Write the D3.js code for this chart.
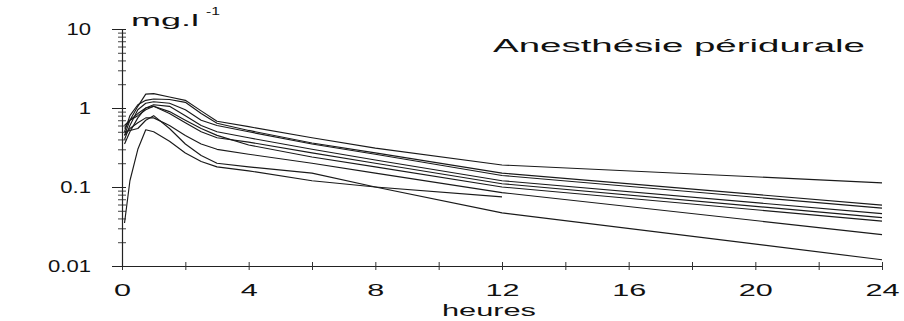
<!DOCTYPE html>
<html><head><meta charset="utf-8">
<script src="https://cdn.jsdelivr.net/npm/d3@7"></script>
<style>
body{margin:0;background:#fff;}
text{font-family:"Liberation Sans",Arial,Helvetica,sans-serif;fill:#111;}
</style></head>
<body><svg id="c" width="904" height="321"></svg>
<script>
// sampling times (heures)
const times = [0.08, 0.25, 0.5, 0.75, 1, 1.5, 2, 2.5, 3, 4, 6, 8, 12, 24];
// concentrations (mg.l-1), one array per patient
const p1 = [0.45, 0.70, 1.05, 1.50, 1.52, 1.38, 1.25, 0.92, 0.68, 0.58, 0.42, 0.31, 0.19, 0.113];
const p2 = [0.50, 0.80, 1.10, 1.25, 1.30, 1.28, 1.18, 0.85, 0.64, 0.52, 0.36, 0.27, 0.15, 0.059];
const p3 = [0.40, 0.60, 0.95, 1.15, 1.20, 1.15, 0.95, 0.70, 0.60, 0.50, 0.35, 0.26, 0.14, 0.054];
const p4 = [0.55, 0.70, 0.85, 1.00, 1.10, 1.05, 0.80, 0.60, 0.50, 0.42, 0.30, 0.22, 0.12, 0.046];
const p5 = [0.60, 0.70, 0.80, 0.95, 1.05, 0.85, 0.65, 0.50, 0.42, 0.37, 0.27, 0.20, 0.11, 0.041];
const p6 = [0.35, 0.50, 0.75, 1.00, 1.05, 0.90, 0.70, 0.55, 0.45, 0.34, 0.24, 0.18, 0.10, 0.037];
const p7 = [0.45, 0.55, 0.65, 0.75, 0.75, 0.60, 0.45, 0.35, 0.30, 0.26, 0.20, 0.15, 0.085, 0.025];
const p8 = [0.035, 0.12, 0.30, 0.53, 0.50, 0.38, 0.27, 0.21, 0.18, 0.16, 0.12, 0.10, 0.075, null];
const p9 = [0.50, 0.52, 0.55, 0.70, 0.80, 0.55, 0.35, 0.25, 0.20, 0.18, 0.15, 0.10, 0.047, 0.012];
const series = [p1, p2, p3, p4, p5, p6, p7, p8, p9];

const xTicks = [0, 2, 4, 6, 8, 10, 12, 14, 16, 18, 20, 22, 24];
const yMajor = [0.01, 0.1, 1, 10];
const title = "Anesthésie péridurale";
const yUnit = "mg.l";
const yUnitSup = "-1";
const xTitle = "heures";

const svg = d3.select("#c");
const x = d3.scaleLinear().domain([0, 24]).range([122, 882]);
const y = d3.scaleLog().domain([0.01, 10]).range([266, 29]);

// minor y ticks
const yMinor = [];
[0.01, 0.1, 1].forEach(d => { for (let k = 2; k <= 9; k++) yMinor.push(d * k); });

// x axis
const gx = svg.append("g").attr("transform", "translate(0,266)")
  .call(d3.axisBottom(x).tickValues(xTicks).tickSize(4).tickSizeOuter(0)
    .tickFormat(d => d % 4 === 0 ? d : ""));
gx.select(".domain").attr("stroke", "#222").attr("stroke-width", 1.2);
gx.selectAll(".tick line").attr("y1", -4).attr("y2", 4).attr("stroke", "#333");
gx.selectAll(".tick text").attr("y", 0).attr("dy", 30)
  .attr("font-size", 17).attr("transform", "scale(1.8,1)").attr("fill", "#111");

// y axis minor
const gym = svg.append("g").attr("transform", "translate(122,0)")
  .call(d3.axisLeft(y).tickValues(yMinor).tickSize(4).tickFormat(""));
gym.select(".domain").remove();
gym.selectAll(".tick line").attr("x1", 4).attr("x2", -4).attr("stroke", "#444");

// y axis major
const gy = svg.append("g").attr("transform", "translate(122,0)")
  .call(d3.axisLeft(y).tickValues(yMajor).tickSize(10).tickSizeOuter(0)
    .tickFormat(d => String(d)));
gy.select(".domain").attr("stroke", "#222").attr("stroke-width", 1.2);
gy.selectAll(".tick line").attr("x1", 4).attr("stroke", "#222");
gy.selectAll(".tick text").attr("x", -31 / 1.3).attr("dy", "0.35em")
  .attr("font-size", 17).attr("transform", "scale(1.3,1)").attr("fill", "#111");

// curves
const line = d3.line().defined(d => d[1] != null).x(d => x(d[0])).y(d => y(d[1]));
svg.append("g").selectAll("path").data(series).join("path")
  .attr("d", s => line(times.map((t, i) => [t, s[i]])))
  .attr("fill", "none").attr("stroke", "#1a1a1a").attr("stroke-width", 1.15)
  .attr("stroke-linejoin", "round");

// texts
svg.append("text").attr("x", 131).attr("y", 26).attr("font-size", 17)
  .attr("textLength", 68).attr("lengthAdjust", "spacingAndGlyphs").text(yUnit);
svg.append("text").attr("x", 206).attr("y", 15).attr("font-size", 10)
  .attr("textLength", 14).attr("lengthAdjust", "spacingAndGlyphs").text(yUnitSup);
svg.append("text").attr("x", 493).attr("y", 52).attr("font-size", 18)
  .attr("textLength", 372).attr("lengthAdjust", "spacingAndGlyphs").text(title);
svg.append("text").attr("x", 442).attr("y", 316).attr("font-size", 17)
  .attr("textLength", 94).attr("lengthAdjust", "spacingAndGlyphs").text(xTitle);
</script></body></html>
